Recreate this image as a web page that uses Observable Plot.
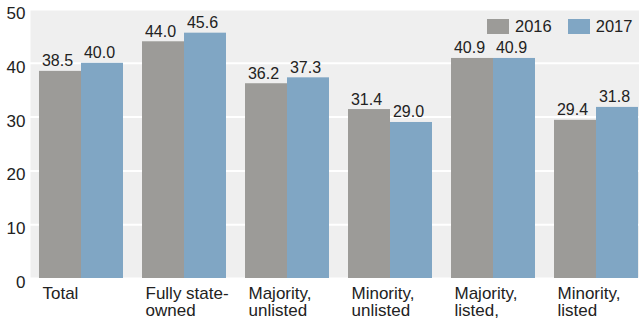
<!DOCTYPE html>
<html>
<head>
<meta charset="utf-8">
<script src="https://cdn.jsdelivr.net/npm/d3@7"></script>
<script src="https://cdn.jsdelivr.net/npm/@observablehq/plot@0.6"></script>
<style>
  html, body { margin: 0; padding: 0; background: #fff; }
  #wrap { position: relative; width: 639px; height: 320px; overflow: hidden; font-family: "Liberation Sans", Arial, Helvetica, sans-serif; color: #222; }
  .legend { position: absolute; top: 17px; left: 487px; display: flex; align-items: center; font-size: 16.5px; }
  .legend .sw { display: inline-block; width: 22px; height: 15px; margin-right: 6px; }
  .legend .item { display: flex; align-items: center; margin-right: 16px; }
</style>
</head>
<body>
<div id="wrap"></div>
<script>
const categories = ["Total", "Fully state-\nowned", "Majority,\nunlisted", "Minority,\nunlisted", "Majority,\nlisted,", "Minority,\nlisted"];
const years = ["2016", "2017"];
const values2016 = [38.5, 44.0, 36.2, 31.4, 40.9, 29.4];
const values2017 = [40.0, 45.6, 37.3, 29.0, 40.9, 31.8];
const yTicks = [0, 10, 20, 30, 40, 50];
const colors = ["#9c9b98", "#80a6c4"];

const d16 = categories.map((c, i) => ({category: c, year: years[0], value: values2016[i]}));
const d17 = categories.map((c, i) => ({category: c, year: years[1], value: values2017[i]}));

const half = 42;

const chart = Plot.plot({
  width: 639,
  height: 320,
  marginLeft: 30,
  marginRight: 0,
  marginTop: 9,
  marginBottom: 42,
  style: {fontFamily: '"Liberation Sans", Arial, Helvetica, sans-serif', color: "#222", background: "transparent"},
  x: {domain: categories, paddingInner: 0.1845, paddingOuter: 0.0485, align: 0.9, round: false, label: null},
  y: {domain: [0, 50], label: null},
  marks: [
    Plot.frame({fill: "#efefef", stroke: null}),
    Plot.gridY(yTicks, {stroke: "#fff", strokeOpacity: 1, strokeWidth: 2}),
    Plot.barY(d16, {x: "category", y: "value", fill: colors[0], insetRight: half, insetLeft: 0}),
    Plot.barY(d17, {x: "category", y: "value", fill: colors[1], insetLeft: half, insetRight: 0}),
    Plot.text(d16, {x: "category", y: "value", text: d => d.value.toFixed(1), dx: -half / 2 - 3, dy: -5, lineAnchor: "bottom", fontSize: 16, fill: "#222"}),
    Plot.text(d17, {x: "category", y: "value", text: d => d.value.toFixed(1), dx: half / 2 - 3, dy: -5, lineAnchor: "bottom", fontSize: 16, fill: "#222"}),
    Plot.axisY(yTicks, {tickSize: 0, tickPadding: 5, dy: 4, fontSize: 17, label: null, fill: "#222"}),
    Plot.axisX({tickSize: 0, tickPadding: 8, textAnchor: "start", dx: -half + 3, fontSize: 17, lineHeight: 1.0, label: null, fill: "#222"})
  ]
});

const wrap = document.getElementById("wrap");
wrap.appendChild(chart);

const legend = document.createElement("div");
legend.className = "legend";
years.forEach((y, i) => {
  const item = document.createElement("span");
  item.className = "item";
  const sw = document.createElement("span");
  sw.className = "sw";
  sw.style.background = colors[i];
  item.appendChild(sw);
  item.appendChild(document.createTextNode(y));
  legend.appendChild(item);
});
wrap.appendChild(legend);
</script>
</body>
</html>
